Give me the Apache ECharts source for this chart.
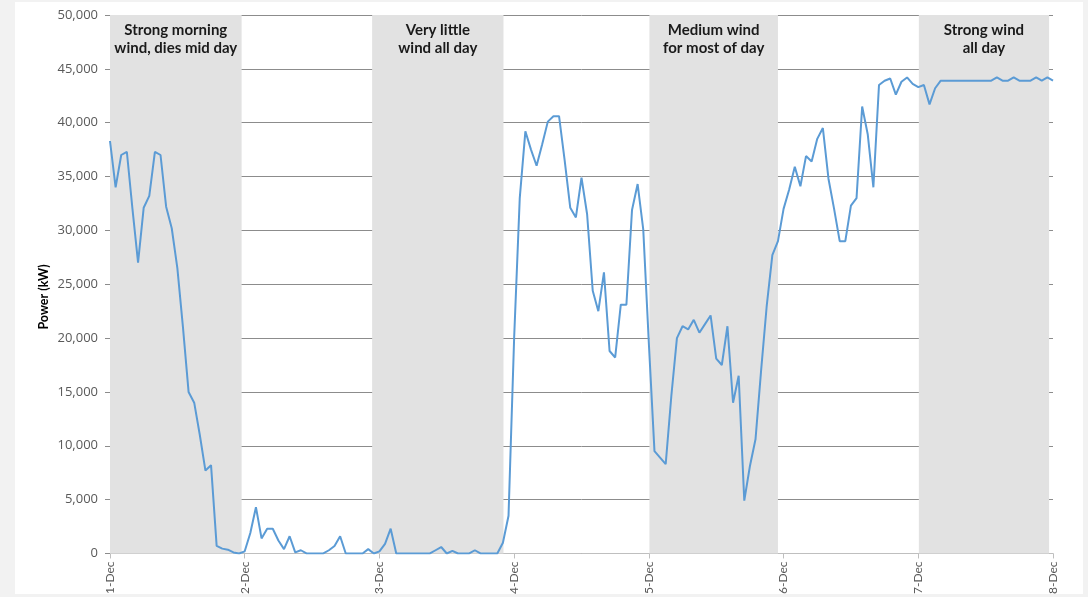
<!DOCTYPE html>
<html>
<head>
<meta charset="utf-8">
<script src="https://cdn.jsdelivr.net/npm/echarts@6/dist/echarts.min.js"></script>
<style>
html,body{margin:0;padding:0;background:#f2f2f2;}
#chart{width:1088px;height:597px;}
</style>
</head>
<body>
<div id="chart"></div>
<script>
// Day tick labels (one every 24 hours)
const dayLabels = ['1-Dec','2-Dec','3-Dec','4-Dec','5-Dec','6-Dec','7-Dec','8-Dec'];

// Hourly power output (kW), from 1-Dec 00:00 to 8-Dec 00:00
const powerKW = [
  // 1-Dec
  38300,34000,37000,37300,32000,27000,32100,33200,37300,37000,32200,30200,
  26500,21000,15000,14000,11000,7700,8200,700,450,350,100,0,
  // 2-Dec
  200,1900,4300,1400,2300,2300,1200,400,1600,100,300,0,
  0,0,0,300,700,1600,0,0,0,0,400,0,
  // 3-Dec
  200,900,2300,0,0,0,0,0,0,0,300,600,
  0,250,0,0,0,300,0,0,0,0,1000,3500,
  // 4-Dec
  20000,33000,39200,37500,36000,38000,40100,40600,40600,36500,32100,31200,
  34900,31500,24400,22500,26100,18800,18200,23100,23100,31900,34300,30100,
  // 5-Dec
  19500,9500,8900,8300,14600,20000,21100,20800,21700,20500,21300,22100,
  18100,17500,21100,14000,16500,4900,8100,10600,17000,23000,27700,29000,
  // 6-Dec
  32000,33800,35900,34100,36900,36400,38500,39500,34800,32000,29000,29000,
  32300,33000,41500,38900,34000,43500,43900,44100,42600,43800,44200,43600,
  // 7-Dec
  43300,43500,41700,43200,43900,43900,43900,43900,43900,43900,43900,43900,
  43900,43900,44200,43900,43900,44200,43900,43900,43900,44200,43900,44200,
  // 8-Dec
  43900
];

// Shaded periods, in hours from 1-Dec 00:00
const bandStart = [0, 46.7, 96.1, 144.1];
const bandEnd   = [23.45, 70.1, 119.0, 167.3];
const bandText  = [
  'Strong morning\nwind, dies mid day',
  'Very little\nwind all day',
  'Medium wind\nfor most of day',
  'Strong wind\nall day'
];

const yTitle = 'Power (kW)';

const FONT = 'Lato, "Open Sans", sans-serif';
const chart = echarts.init(document.getElementById('chart'));

const lineData = powerKW.map((v, i) => [i, v]);
const areaData = bandStart.map((s, i) => [
  { xAxis: s, name: bandText[i] },
  { xAxis: bandEnd[i] }
]);

chart.setOption({
  backgroundColor: '#f2f2f2',
  animation: false,
  graphic: [
    {
      type: 'rect', z: -100,
      shape: { x: 15, y: 2, width: 1068, height: 592 },
      style: { fill: '#ffffff' }
    },
    {
      type: 'text', x: 44, y: 297, rotation: Math.PI / 2,
      style: {
        text: yTitle, fontWeight: 'bold', fontSize: 12.5, fill: '#000',
        fontFamily: FONT, textAlign: 'center', textVerticalAlign: 'middle'
      }
    }
  ],
  grid: { left: 110, right: 35, top: 15, bottom: 43 },
  xAxis: {
    type: 'value', min: 0, max: 168, interval: 24,
    axisLine: { show: true, lineStyle: { color: '#bfbfbf', width: 1 } },
    axisTick: { show: true, length: 5, lineStyle: { color: '#bfbfbf' } },
    axisLabel: {
      rotate: 90, margin: 8,
      formatter: v => dayLabels[Math.round(v / 24)],
      color: '#595959', fontSize: 12, fontFamily: FONT
    },
    splitLine: { show: false }
  },
  yAxis: {
    type: 'value', min: 0, max: 50000, interval: 5000,
    axisLine: { show: false },
    axisTick: { show: true, length: 5, lineStyle: { color: '#8c8c8c' } },
    axisLabel: {
      margin: 12,
      formatter: v => v.toLocaleString('en-US'),
      color: '#595959', fontSize: 13, fontFamily: '"Open Sans", sans-serif'
    },
    splitLine: { show: true, lineStyle: { color: '#8c8c8c', width: 1 } }
  },
  series: [
    {
      type: 'line', z: -1, data: [], silent: true,
      markArea: {
        silent: true,
        itemStyle: { color: '#e2e2e2' },
        label: {
          show: true, position: 'insideTop', distance: 6,
          fontWeight: 'bold', fontSize: 15, lineHeight: 18,
          color: '#1a1a1a', fontFamily: FONT, align: 'center'
        },
        data: areaData
      }
    },
    {
      type: 'line', data: lineData,
      showSymbol: false, symbol: 'none',
      lineStyle: { color: '#5b9bd5', width: 2 },
      z: 3
    }
  ]
});
</script>
</body>
</html>
